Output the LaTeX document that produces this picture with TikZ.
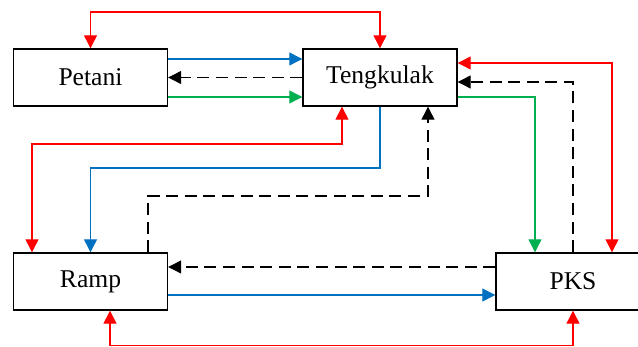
\documentclass[tikz,border=0pt]{standalone}
\usepackage{fontspec}
\setmainfont{Liberation Serif}
\usepackage{xcolor}
\usepackage{tikz}
\usetikzlibrary{arrows.meta,positioning,calc}

\definecolor{flowblue}{RGB}{0,112,192}
\definecolor{flowgreen}{RGB}{0,176,80}
\definecolor{flowred}{RGB}{255,0,0}

\begin{document}
\begin{tikzpicture}[
  x=0.5pt, y=-0.5pt,
  box/.style={draw, line width=0.7pt, minimum width=77pt, minimum height=28.5pt,
    inner sep=0pt, font=\fontsize{12.8}{15}\selectfont},
  arr/.style={line width=0.6pt, -{Triangle[length=6.5pt,width=6.5pt]}},
  both/.style={line width=0.6pt, {Triangle[length=6.5pt,width=6.5pt]}-{Triangle[length=6.5pt,width=6.5pt]}},
  back/.style={arr, black, dash pattern=on 6pt off 3.3pt}
]
  \path[use as bounding box, clip] (0,0) rectangle (638,347);

  \node[box] (petani) at (90.5,77.5) {Petani};
  \node[box] (tengkulak) at (380,77.5) {Tengkulak};
  \node[box] (ramp) at (90.5,281.5) {Ramp};
  \node[box] (pks) at (573,281.5) {PKS};

  % petani <-> tengkulak
  \draw[both, flowred] (petani.north) -- (petani.north |- 0,12) -| (tengkulak.north);
  \draw[arr, flowblue] (petani.east |- 0,59) -- (tengkulak.west |- 0,59);
  \draw[back] (tengkulak.west) -- (petani.east);
  \draw[arr, flowgreen] (petani.east |- 0,97) -- (tengkulak.west |- 0,97);

  % tengkulak <-> ramp
  \draw[both, flowred] (tengkulak.south -| 342,0) -- (342,144) -| (ramp.north -| 32,0);
  \draw[arr, flowblue] (tengkulak.south) -- (tengkulak.south |- 0,168) -| (ramp.north);
  \draw[back] (ramp.north -| 148,0) -- (148,196) -| (tengkulak.south -| 428,0);

  % tengkulak <-> pks
  \draw[both, flowred] (tengkulak.east |- 0,63) -| (pks.north -| 612,0);
  \draw[back] (pks.north) |- (tengkulak.east |- 0,82);
  \draw[arr, flowgreen] (tengkulak.east |- 0,97) -| (pks.north -| 535,0);

  % ramp <-> pks
  \draw[back] (pks.west |- 0,267) -- (ramp.east |- 0,267);
  \draw[arr, flowblue] (ramp.east |- 0,295) -- (pks.west |- 0,295);
  \draw[both, flowred] (ramp.south -| 110,0) -- (110,345.5) -| (pks.south);
\end{tikzpicture}
\end{document}
